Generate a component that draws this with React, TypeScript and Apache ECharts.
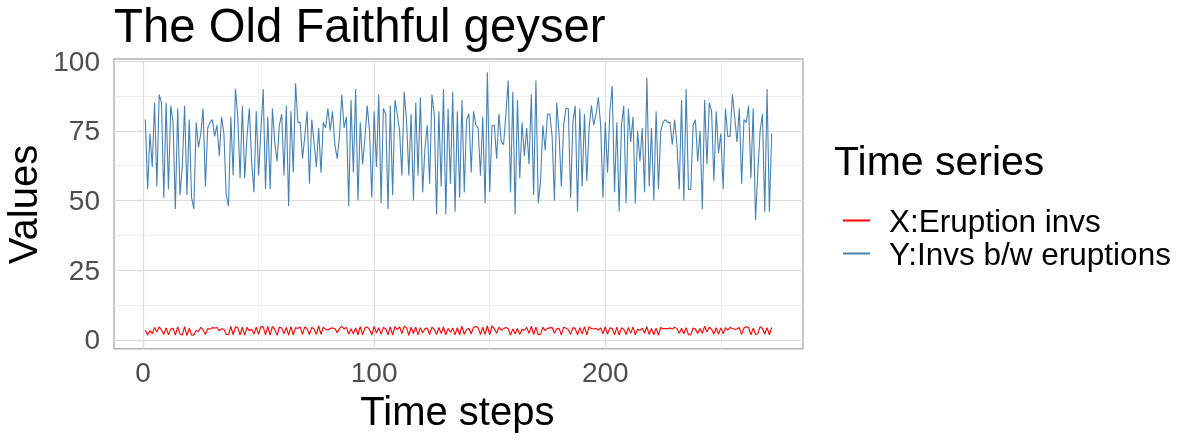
import React, { useEffect, useRef } from "react";
import * as echarts from "echarts";

const FONT = '"Liberation Sans", Arial, Helvetica, sans-serif';

const titleText = "The Old Faithful geyser";
const xAxisTitle = "Time steps";
const yAxisTitle = "Values";
const legendTitle = "Time series";
const seriesNames = ["X:Eruption invs", "Y:Invs b/w eruptions"];
const seriesColors = ["#ff0000", "#4682b4"];

const xTicks = [0, 100, 200];
const yTicks = [0, 25, 50, 75, 100];
const xMinorGrid = [50, 150, 250];
const yMinorGrid = [12.5, 37.5, 62.5, 87.5];

// Old Faithful: eruption durations (min)
const eruptions = [3.6,1.8,3.333,2.283,4.533,2.883,4.7,3.6,1.95,4.35,1.833,3.917,4.2,1.75,4.7,2.167,1.75,4.8,1.6,4.25,1.8,1.75,3.45,3.067,4.533,3.6,1.967,4.083,3.85,4.433,4.3,4.467,3.367,4.033,3.833,2.017,1.867,4.833,1.833,4.783,4.35,1.883,4.567,1.75,4.533,3.317,3.833,2.1,4.633,2,4.8,4.716,1.833,4.833,1.733,4.883,3.717,1.667,4.567,4.317,2.233,4.5,1.75,4.8,1.817,4.4,4.167,4.7,2.067,4.7,4.033,1.967,4.5,4,1.983,5.067,2.017,4.567,3.883,3.6,4.133,4.333,4.1,2.633,4.067,4.933,3.95,4.517,2.167,4,2.2,4.333,1.867,4.817,1.833,4.3,4.667,3.75,1.867,4.9,2.483,4.367,2.1,4.5,4.05,1.867,4.7,1.783,4.85,3.683,4.733,2.3,4.9,4.417,1.7,4.633,2.317,4.6,1.817,4.417,2.617,4.067,4.25,1.967,4.6,3.767,1.917,4.5,2.267,4.65,1.867,4.167,2.8,4.333,1.833,4.383,1.883,4.933,2.033,3.733,4.233,2.233,4.533,4.817,4.333,1.983,4.633,2.017,5.1,1.8,5.033,4,2.4,4.6,3.567,4,4.5,4.083,1.8,3.967,2.2,4.15,2,3.833,3.5,4.583,2.367,5,1.933,4.617,1.917,2.083,4.583,3.333,4.167,4.333,4.5,2.417,4,4.167,1.883,4.583,4.25,3.767,2.033,4.433,4.083,1.833,4.417,2.183,4.8,1.833,4.8,4.1,3.966,4.233,3.5,4.366,2.25,4.667,2.1,4.35,4.133,1.867,4.6,1.783,4.367,3.85,1.933,4.5,2.383,4.7,1.867,3.833,3.417,4.233,2.4,4.8,2,4.15,1.867,4.267,1.75,4.483,4,4.117,4.083,4.267,3.917,4.55,4.083,2.417,4.183,2.217,4.45,1.883,1.85,4.283,3.95,2.333,4.15,2.35,4.933,2.9,4.583,3.833,2.083,4.367,2.133,4.35,2.2,4.45,3.567,4.5,4.15,3.817,3.917,4.45,2,4.283,4.767,4.533,1.85,4.25,1.983,2.25,4.75,4.117,2.15,4.417,1.817,4.467];

// Old Faithful: waiting time between eruptions (min)
const waiting = [79,54,74,62,85,55,88,85,51,85,54,84,78,47,83,52,62,84,52,79,51,47,78,69,74,83,55,76,78,79,73,77,66,80,74,52,48,80,59,90,80,58,84,58,73,83,64,53,82,59,75,90,54,80,54,83,71,64,77,81,59,84,48,82,60,92,78,78,65,73,82,56,79,71,62,76,60,78,76,83,75,82,70,65,73,88,76,80,48,86,60,90,50,78,63,72,84,75,51,82,62,88,49,83,81,47,84,52,86,81,75,59,89,79,59,81,50,85,59,87,53,69,77,56,88,81,45,82,55,90,45,83,56,89,46,82,51,86,53,79,81,60,82,77,76,59,80,49,96,53,77,77,65,81,71,70,81,93,53,89,45,86,58,78,66,76,63,88,52,93,49,57,77,68,81,81,73,50,85,74,55,77,83,83,51,78,84,46,83,55,81,57,76,84,77,81,87,77,51,78,60,82,91,53,78,46,77,84,49,83,71,80,49,75,64,76,53,94,55,76,50,82,54,75,78,79,78,78,70,79,70,54,86,50,90,54,54,77,79,64,75,47,86,63,85,82,57,82,67,74,54,83,73,73,88,80,71,83,56,79,78,84,58,83,43,60,75,81,46,90,46,74];

const toPairs = (vals: number[]) => vals.map((v, i) => [i + 1, v]);

export default function App() {
  const ref = useRef<HTMLDivElement>(null);

  useEffect(() => {
    if (!ref.current) return;
    const chart = echarts.init(ref.current, undefined, { renderer: "svg" });

    const majorStyle = { color: "#dedede", width: 1.2, type: "solid" };
    const minorStyle = { color: "#e9e9e9", width: 0.7, type: "solid" };
    const gridLines = [
      ...xMinorGrid.map((v) => ({ xAxis: v, lineStyle: minorStyle })),
      ...yMinorGrid.map((v) => ({ yAxis: v, lineStyle: minorStyle })),
      ...xTicks.map((v) => ({ xAxis: v, lineStyle: majorStyle })),
      ...yTicks.map((v) => ({ yAxis: v, lineStyle: majorStyle })),
    ];

    const option: any = {
      animation: false,
      grid: {
        left: 114,
        right: 390,
        top: 59,
        height: 289.7,
        show: true,
        borderColor: "#b3b3b3",
        borderWidth: 1.5,
        backgroundColor: "transparent",
      },
      xAxis: {
        type: "value",
        min: -12.55,
        max: 285.55,
        axisLine: { show: false },
        splitLine: { show: false },
        axisTick: {
          show: true,
          customValues: xTicks,
          length: 5,
          lineStyle: { color: "#b3b3b3", width: 1.3 },
        },
        axisLabel: {
          customValues: xTicks,
          fontSize: 28,
          color: "#4d4d4d",
          fontFamily: FONT,
          margin: 10,
        },
      },
      yAxis: {
        type: "value",
        min: -3.12,
        max: 100.72,
        axisLine: { show: false },
        splitLine: { show: false },
        axisTick: {
          show: true,
          customValues: yTicks,
          length: 5,
          lineStyle: { color: "#b3b3b3", width: 1.3 },
        },
        axisLabel: {
          customValues: yTicks,
          fontSize: 28,
          color: "#4d4d4d",
          fontFamily: FONT,
          margin: 14,
          padding: [7, 0, 0, 0],
        },
      },
      legend: {
        left: 838,
        top: 199,
        orient: "vertical",
        itemWidth: 27,
        itemHeight: 2,
        itemGap: 0,
        icon: "rect",
        data: seriesNames,
        textStyle: {
          fontSize: 31.5,
          color: "#000",
          fontFamily: FONT,
          lineHeight: 33,
          padding: [0, 0, 0, 14],
        },
      },
      graphic: [
        {
          type: "text",
          x: 114,
          y: 25.7,
          style: {
            text: titleText,
            fontSize: 47.3,
            fontFamily: FONT,
            fill: "#000",
            verticalAlign: "middle",
            align: "left",
          },
        },
        {
          type: "text",
          x: 457.4,
          y: 411,
          style: {
            text: xAxisTitle,
            fontSize: 40,
            fontFamily: FONT,
            fill: "#000",
            verticalAlign: "middle",
            align: "center",
          },
        },
        {
          type: "text",
          x: 23,
          y: 204.5,
          rotation: Math.PI / 2,
          style: {
            text: yAxisTitle,
            fontSize: 40,
            fontFamily: FONT,
            fill: "#000",
            verticalAlign: "middle",
            align: "center",
          },
        },
        {
          type: "text",
          x: 834,
          y: 160.5,
          style: {
            text: legendTitle,
            fontSize: 41,
            fontFamily: FONT,
            fill: "#000",
            verticalAlign: "middle",
            align: "left",
          },
        },
      ],
      series: [
        {
          name: seriesNames[0],
          type: "line",
          data: toPairs(eruptions),
          showSymbol: false,
          symbol: "none",
          z: 3,
          color: seriesColors[0],
          lineStyle: { color: seriesColors[0], width: 1.1 },
          markLine: {
            silent: true,
            symbol: "none",
            z: 1,
            animation: false,
            label: { show: false },
            emphasis: { disabled: true },
            data: gridLines,
          },
        },
        {
          name: seriesNames[1],
          type: "line",
          data: toPairs(waiting),
          showSymbol: false,
          symbol: "none",
          z: 3,
          color: seriesColors[1],
          lineStyle: { color: seriesColors[1], width: 1.1 },
        },
      ],
    };

    chart.setOption(option);
    return () => chart.dispose();
  }, []);

  return (
    <div
      ref={ref}
      style={{ position: "fixed", left: 0, top: 0, width: 1193, height: 442 }}
    />
  );
}
